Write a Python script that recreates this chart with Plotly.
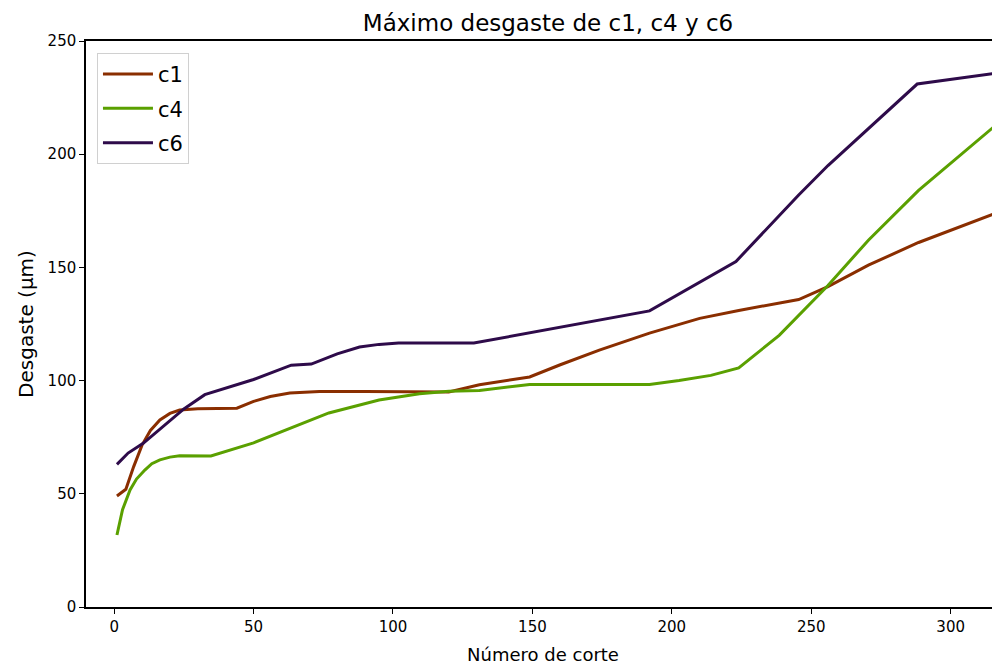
import plotly.graph_objects as go

# valores
x_c1 = [1, 4.2, 7, 10, 13, 16.4, 20, 23.5, 30, 44, 50, 56, 63, 73.6, 90, 120, 131, 149, 160, 174, 192, 210, 224, 245.5, 256, 270.5, 288.5, 315.4]
y_c1 = [49, 52, 62, 71.5, 78, 82.6, 85.5, 87, 87.6, 87.8, 90.8, 93, 94.5, 95.2, 95.2, 95, 98.2, 101.6, 107, 113.5, 121, 127.5, 131, 135.8, 141.5, 151, 161, 173.6]

x_c4 = [1, 3, 5.7, 8, 11, 13.5, 16.4, 20, 23.5, 34.7, 50, 63, 77, 95, 109.5, 120, 131, 149, 192, 202.6, 214, 224, 238.5, 256, 270.5, 288.5, 315.4]
y_c4 = [31.8, 43, 51.7, 56.5, 60.5, 63.3, 65, 66.2, 66.8, 66.7, 72.5, 79, 85.7, 91.4, 94.2, 95.3, 95.6, 98.3, 98.3, 100, 102.3, 105.6, 120, 142, 162, 184, 212]

x_c6 = [1, 5, 10.4, 17.5, 25, 32.5, 50, 63.5, 70.7, 80, 88, 95, 102, 129, 192, 223, 245.5, 256, 288, 315.4]
y_c6 = [63, 68, 72.3, 79.6, 87.5, 93.8, 100.5, 106.8, 107.3, 111.8, 114.8, 116, 116.6, 116.6, 130.8, 152.6, 182, 195, 231, 235.6]

series = [("c1", x_c1, y_c1, "#8a2e00"), ("c4", x_c4, y_c4, "#5aa000"), ("c6", x_c6, y_c6, "#2e0b4a")]

fig = go.Figure()
for name, xs, ys, col in series:
    fig.add_trace(go.Scatter(x=xs, y=ys, mode="lines", name=name, legendgroup=name,
                             line=dict(color=col, width=3)))

# la pagina tiene 8px de margen en el body
fig.update_layout(
    width=1000, height=666,
    paper_bgcolor="white", plot_bgcolor="white",
    margin=dict(l=78, r=8, t=33, b=67),
    font=dict(family="DejaVu Sans", color="black", size=15),
    title=dict(text="Máximo desgaste de c1, c4 y c6", x=0.54, xanchor="center",
               y=0.978, yanchor="middle", font=dict(size=23)),
    legend=dict(x=0.012, y=0.979, xanchor="left", yanchor="top",
                bgcolor="white", bordercolor="#d0d0d0", borderwidth=1,
                font=dict(size=21), itemwidth=50, tracegroupgap=4),
)
fig.update_xaxes(range=[-10.1, 317.7], tickvals=[0, 50, 100, 150, 200, 250, 300],
                 showgrid=False, zeroline=False, showline=True, linecolor="black",
                 linewidth=1.5, mirror=True, ticks="outside", ticklen=5, automargin=False,
                 tickcolor="black", title=dict(text="Número de corte", font=dict(size=18), standoff=14))
fig.update_yaxes(range=[0, 250], tickvals=[0, 50, 100, 150, 200, 250], automargin=False,
                 showgrid=False, zeroline=False, showline=True, linecolor="black",
                 linewidth=1.5, ticks="outside", ticklen=5, tickcolor="black",
                 title=dict(text="Desgaste (µm)", font=dict(size=20), standoff=9))

fig.write_html("out.html")
